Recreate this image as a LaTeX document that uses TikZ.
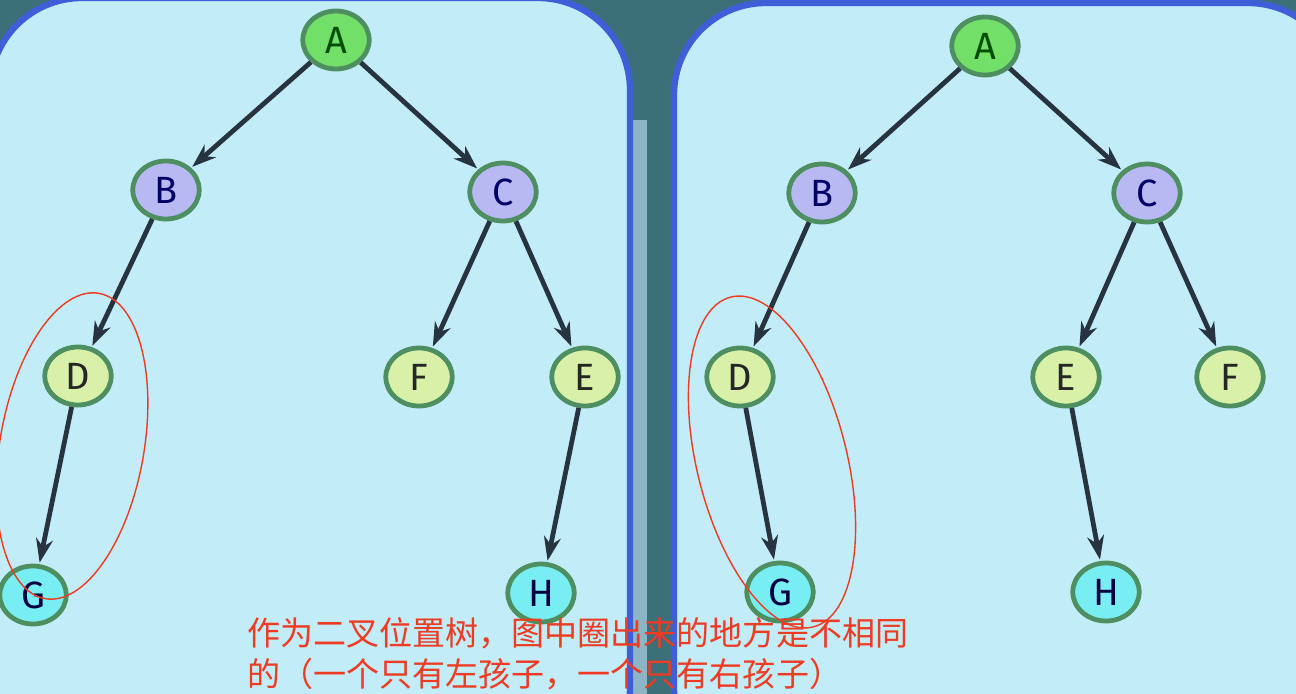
\documentclass[tikz,border=0pt]{standalone}
\usepackage{fontspec}
\setmainfont{Fira Sans}
\newfontfamily\cjk{Noto Sans CJK SC}
\usepackage{tikz}
\usetikzlibrary{arrows.meta,shapes.geometric}
\definecolor{wall}{HTML}{3B7078}
\definecolor{board}{HTML}{C2ECF8}
\definecolor{rim}{HTML}{3F5FD8}
\definecolor{ring}{HTML}{4E8F62}
\definecolor{edgecol}{HTML}{27343F}
\definecolor{note}{HTML}{EE3B22}
\definecolor{rootfill}{HTML}{72E068}
\definecolor{innerfill}{HTML}{B8B8F2}
\definecolor{midfill}{HTML}{D8F0A8}
\definecolor{leaffill}{HTML}{78EEF2}
\definecolor{strip}{HTML}{8CB6C6}
\tikzstyle{panel} = [fill=board, draw=rim, line width=4.5pt, rounded corners=2.3cm]
\tikzstyle{vert} = [draw=ring, line width=3.4pt, ellipse, minimum width=1.66cm, minimum height=1.45cm, inner sep=0pt, font=\fontsize{27}{27}\selectfont]
\tikzstyle{root} = [vert, fill=rootfill, text=green!30!black]
\tikzstyle{inner} = [vert, fill=innerfill, text=blue!40!black]
\tikzstyle{mid} = [vert, fill=midfill, text=black!85]
\tikzstyle{leaf} = [vert, fill=leaffill, text=black!75!blue]
\tikzstyle{link} = [-{Stealth[length=17pt,width=12pt]}, draw=edgecol, line width=3.4pt, shorten >=1pt]
\tikzstyle{circled} = [draw=note, line width=1pt]

\begin{document}
\begin{tikzpicture}[x=0.025cm, y=-0.025cm]
\useasboundingbox (0,0) rectangle (1296,694);
\fill[wall] (0,0) rectangle (1296,694);
% boards
\fill[strip] (600,120) rectangle (647,760);
\draw[panel] (-10,-2) rectangle (630,780);
\draw[panel] (674,3) rectangle (1340,780);
% left tree
\node (la) [root] at (336,40) {A};
\node (lb) [inner] at (166,190) {B};
\draw [link] (la) -- (lb);
\node (lc) [inner] at (503,192) {C};
\draw [link] (la) -- (lc);
\node (ld) [mid] at (78,376) {D};
\draw [link] (lb) -- (ld);
\node (lf) [mid] at (419,377) {F};
\draw [link] (lc) -- (lf);
\node (le) [mid] at (585,377) {E};
\draw [link] (lc) -- (le);
\node (lg) [leaf] at (33,595) {G};
\draw [link] (ld) -- (lg);
\node (lh) [leaf] at (541,593) {H};
\draw [link] (le) -- (lh);
% right tree
\node (ra) [root] at (985,46) {A};
\node (rb) [inner] at (822,193) {B};
\draw [link] (ra) -- (rb);
\node (rc) [inner] at (1147,193) {C};
\draw [link] (ra) -- (rc);
\node (rd) [mid] at (740,377) {D};
\draw [link] (rb) -- (rd);
\node (re) [mid] at (1066,377) {E};
\draw [link] (rc) -- (re);
\node (rf) [mid] at (1230,377) {F};
\draw [link] (rc) -- (rf);
\node (rg) [leaf] at (780,592) {G};
\draw [link] (rd) -- (rg);
\node (rh) [leaf] at (1106,592) {H};
\draw [link] (re) -- (rh);
% circled parts
\draw [circled] (72,446) ellipse [x radius=72, y radius=155, rotate=-10];
\draw [circled] (772,462) ellipse [x radius=75, y radius=170, rotate=14];
\node (txt) [anchor=north west, text=note, align=left, inner sep=0pt, font=\cjk\fontsize{23.5}{29}\selectfont] at (247,617) {作为二叉位置树，图中圈出来的地方是不相同\\的（一个只有左孩子，一个只有右孩子）};
\end{tikzpicture}
\end{document}
